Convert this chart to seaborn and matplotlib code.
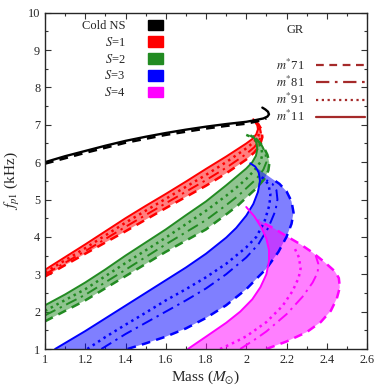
import numpy as np
import pandas as pd
import seaborn as sns
import matplotlib.pyplot as plt
from matplotlib.patches import Patch
from matplotlib.lines import Line2D
from matplotlib.ticker import MultipleLocator

# (mass, f_p1) pairs
cold_solid = [(1.0, 6.0), (1.1, 6.16), (1.2, 6.3), (1.3, 6.44), (1.4, 6.57), (1.5, 6.68),
              (1.6, 6.78), (1.7, 6.87), (1.8, 6.95), (1.9, 7.02), (2.0, 7.08), (2.05, 7.13),
              (2.085, 7.17), (2.105, 7.22), (2.113, 7.28), (2.108, 7.35), (2.095, 7.41),
              (2.08, 7.46)]
cold_dashed = [(1.0, 5.96), (1.2, 6.25), (1.4, 6.52), (1.6, 6.73), (1.8, 6.9), (1.9, 6.97),
               (2.0, 7.03), (2.06, 7.1), (2.1, 7.17)]

s1_solid = [(1.0, 3.12), (1.1, 3.46), (1.2, 3.8), (1.3, 4.15), (1.4, 4.5), (1.5, 4.83),
            (1.6, 5.15), (1.7, 5.48), (1.8, 5.82), (1.9, 6.15), (1.96, 6.36), (2.0, 6.5),
            (2.03, 6.62), (2.05, 6.75), (2.058, 6.88), (2.055, 6.98), (2.045, 7.08),
            (2.035, 7.15)]
s1_dotted = [(1.0, 3.05), (1.2, 3.7), (1.4, 4.38), (1.6, 5.02), (1.8, 5.66), (1.9, 6.0),
             (1.96, 6.22), (2.0, 6.37), (2.04, 6.55), (2.06, 6.7), (2.066, 6.85),
             (2.06, 6.98), (2.045, 7.08), (2.035, 7.13)]
s1_dashdot = [(1.0, 3.0), (1.2, 3.62), (1.4, 4.27), (1.6, 4.9), (1.8, 5.52), (1.9, 5.85),
              (1.96, 6.07), (2.0, 6.22), (2.04, 6.4), (2.065, 6.58), (2.073, 6.77),
              (2.066, 6.95), (2.05, 7.07), (2.04, 7.12)]
s1_dashed = [(1.0, 2.94), (1.2, 3.55), (1.4, 4.15), (1.6, 4.77), (1.8, 5.37), (1.9, 5.7),
             (1.96, 5.92), (2.0, 6.07), (2.04, 6.26), (2.068, 6.45), (2.08, 6.67),
             (2.075, 6.88), (2.06, 7.02), (2.04, 7.1)]

s2_solid = [(1.0, 2.17), (1.1, 2.46), (1.2, 2.78), (1.3, 3.13), (1.4, 3.5), (1.5, 3.85),
            (1.6, 4.2), (1.7, 4.58), (1.8, 4.95), (1.9, 5.38), (1.96, 5.65), (2.0, 5.83),
            (2.03, 6.0), (2.048, 6.17), (2.055, 6.35), (2.05, 6.52), (2.035, 6.7)]
s2_dotted = [(1.0, 2.02), (1.2, 2.6), (1.4, 3.3), (1.6, 3.98), (1.8, 4.7), (1.9, 5.1),
             (1.96, 5.36), (2.0, 5.55), (2.04, 5.78), (2.07, 6.0), (2.08, 6.2),
             (2.075, 6.38), (2.06, 6.55), (2.02, 6.72)]
s2_dashdot = [(1.0, 1.9), (1.2, 2.45), (1.4, 3.12), (1.6, 3.8), (1.8, 4.45), (1.9, 4.85),
              (1.96, 5.1), (2.0, 5.3), (2.05, 5.55), (2.085, 5.8), (2.1, 6.0), (2.095, 6.25),
              (2.075, 6.47), (2.04, 6.65), (2.01, 6.73)]
s2_dashed = [(1.0, 1.74), (1.2, 2.3), (1.4, 2.95), (1.6, 3.6), (1.8, 4.2), (1.9, 4.6),
             (1.96, 4.85), (2.0, 5.05), (2.05, 5.3), (2.09, 5.55), (2.11, 5.78),
             (2.115, 5.98), (2.105, 6.2), (2.085, 6.42), (2.05, 6.62), (2.0, 6.73)]

s3_solid = [(1.05, 1.0), (1.1, 1.16), (1.2, 1.48), (1.3, 1.82), (1.4, 2.16), (1.5, 2.5),
            (1.6, 2.84), (1.7, 3.18), (1.8, 3.55), (1.9, 3.98), (1.95, 4.24), (2.0, 4.57),
            (2.035, 4.88), (2.058, 5.2), (2.068, 5.5), (2.062, 5.72), (2.045, 5.88),
            (2.02, 5.97)]
s3_dotted = [(1.21, 1.0), (1.3, 1.32), (1.4, 1.65), (1.5, 1.97), (1.6, 2.3), (1.7, 2.6),
             (1.8, 2.92), (1.9, 3.28), (2.0, 3.72), (2.05, 4.0), (2.09, 4.4), (2.115, 4.85),
             (2.12, 5.15), (2.11, 5.4), (2.09, 5.55), (2.07, 5.62)]
s3_dashdot = [(1.28, 1.0), (1.4, 1.4), (1.5, 1.7), (1.6, 2.0), (1.7, 2.3), (1.8, 2.62),
              (1.9, 3.0), (2.0, 3.45), (2.06, 3.8), (2.11, 4.25), (2.145, 4.7), (2.155, 5.0),
              (2.15, 5.25), (2.13, 5.42), (2.1, 5.52)]
s3_dashed = [(1.41, 1.0), (1.5, 1.15), (1.6, 1.33), (1.7, 1.55), (1.8, 1.83), (1.9, 2.17),
             (2.0, 2.6), (2.1, 3.15), (2.16, 3.6), (2.2, 4.0), (2.225, 4.35), (2.235, 4.65),
             (2.225, 4.95), (2.2, 5.22), (2.165, 5.42), (2.13, 5.55)]

s4_solid = [(1.71, 1.0), (1.8, 1.33), (1.9, 1.7), (1.97, 2.0), (2.03, 2.33), (2.07, 2.65),
            (2.1, 3.0), (2.113, 3.35), (2.113, 3.65), (2.1, 3.95), (2.075, 4.25),
            (2.04, 4.55), (2.0, 4.8)]
s4_dotted = [(1.87, 1.0), (1.95, 1.2), (2.0, 1.34), (2.1, 1.72), (2.18, 2.15), (2.23, 2.55),
             (2.26, 2.9), (2.27, 3.15), (2.262, 3.45), (2.24, 3.7)]
s4_dashdot = [(1.97, 1.0), (2.05, 1.28), (2.1, 1.47), (2.2, 1.93), (2.28, 2.4), (2.33, 2.78),
              (2.355, 3.05), (2.358, 3.28), (2.345, 3.5)]
s4_dashed = [(2.1, 1.0), (2.2, 1.2), (2.3, 1.45), (2.37, 1.72), (2.42, 2.02), (2.45, 2.35),
             (2.465, 2.65), (2.46, 2.9), (2.44, 3.08), (2.39, 3.32), (2.33, 3.58),
             (2.27, 3.8), (2.2, 4.02), (2.14, 4.22), (2.1, 4.33), (2.06, 4.45)]

families = {
    "S=1": ("#ff0000", s1_solid, s1_dotted, s1_dashdot, s1_dashed),
    "S=2": ("#228b22", s2_solid, s2_dotted, s2_dashdot, s2_dashed),
    "S=3": ("#0000ff", s3_solid, s3_dotted, s3_dashdot, s3_dashed),
    "S=4": ("#ff00ff", s4_solid, s4_dotted, s4_dashdot, s4_dashed),
}

legend_labels = ["Cold NS", "$S$=1", "$S$=2", "$S$=3", "$S$=4"]
legend_colors = ["#000000", "#ff0000", "#228b22", "#0000ff", "#ff00ff"]
gr_labels = ["$m^{*}$71", "$m^{*}$81", "$m^{*}$91", "$m^{*}$11"]

styles = {
    "solid": "-",
    "dotted": (0, (1.0, 1.6)),
    "dashdot": (0, (6, 2.5, 1.2, 2.5)),
    "dashed": (0, (3.5, 2.5)),
}

sns.set_style("ticks")
plt.rcParams["font.family"] = ["Liberation Serif", "DejaVu Serif"]
plt.rcParams["mathtext.fontset"] = "stix"

fig = plt.figure(figsize=(3.89, 3.89), dpi=100)
ax = fig.add_axes([45 / 389, 1 - 349 / 389, 322 / 389, 336.3 / 389])


def draw(pts, color, ls, lw=1.4):
    d = pd.DataFrame(pts, columns=["m", "f"])
    sns.lineplot(data=d, x="m", y="f", sort=False, estimator=None, color=color,
                 linestyle=ls, linewidth=lw, ax=ax)


for name, (col, solid, dotted, dashdot, dashed) in families.items():
    poly = np.array(solid + dashed[::-1])
    ax.fill(poly[:, 0], poly[:, 1], color=col, alpha=0.5, lw=0)
    draw(solid, col, styles["solid"])
    draw(dotted, col, styles["dotted"], 1.8)
    draw(dashdot, col, styles["dashdot"])
    draw(dashed, col, styles["dashed"], 1.8)

draw(cold_dashed, "black", styles["dashed"], 1.8)
draw(cold_solid, "black", styles["solid"], 1.7)

ax.set_xlim(1, 2.6)
ax.set_ylim(1, 10)
ax.xaxis.set_major_locator(MultipleLocator(0.2))
ax.xaxis.set_minor_locator(MultipleLocator(0.1))
ax.yaxis.set_major_locator(MultipleLocator(1))
ax.yaxis.set_minor_locator(MultipleLocator(0.5))
ax.tick_params(which="both", direction="in", top=True, right=True, labelsize=8.8,
               width=0.8, color="#333333")
ax.tick_params(which="major", length=4)
ax.tick_params(which="minor", length=2)
ax.xaxis.set_major_formatter(plt.FuncFormatter(lambda v, p: f"{v:g}"))
for s in ax.spines.values():
    s.set_linewidth(1.0)
ax.set_xlabel(r"Mass ($M_{\odot}$)", fontsize=11, labelpad=2)
ax.set_ylabel(r"$f_{p1}$ (kHz)", fontsize=11, labelpad=4)

h1 = [Patch(facecolor=c, edgecolor=c) for c in legend_colors]
leg1 = ax.legend(h1, legend_labels, loc="upper right", markerfirst=False, frameon=False,
                 bbox_to_anchor=(163 / 389, 1 - 19.5 / 389), bbox_transform=fig.transFigure,
                 borderaxespad=0, borderpad=0, fontsize=9, handlelength=1.2,
                 handleheight=0.96, handletextpad=1.8, labelspacing=0.3)
ax.add_artist(leg1)

brown = "#a52a2a"
h2 = [Line2D([0], [0], color=brown, lw=1.6, linestyle=styles[k])
      for k in ["dashed", "dashdot", "dotted", "solid"]]
ax.legend(h2, gr_labels, loc="upper right", markerfirst=False, frameon=False,
          bbox_to_anchor=(365 / 389, 1 - 57.5 / 389), bbox_transform=fig.transFigure,
          borderaxespad=0, borderpad=0, fontsize=9, handlelength=3.9,
          handletextpad=0.9, labelspacing=0.17)
fig.text(295 / 389, 1 - 30 / 389, "GR", fontsize=9, ha="center", va="center")

fig.savefig("out.png", dpi=100)
